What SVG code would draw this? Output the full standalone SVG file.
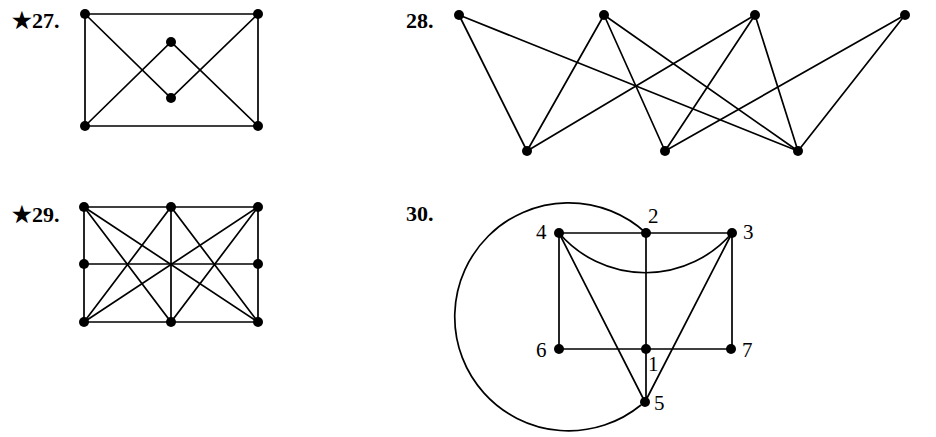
<svg xmlns="http://www.w3.org/2000/svg" width="936" height="437" viewBox="0 0 936 437">
<style>
.e{stroke:#000;stroke-width:1.7;fill:none}
.n{fill:#000}
.t{font-family:"Liberation Serif","Times New Roman",serif;font-weight:bold;font-size:22px;fill:#000}
.l{font-family:"Liberation Serif","Times New Roman",serif;font-size:21px;fill:#000}
</style>
<rect width="936" height="437" fill="#fff"/>
<text class="t" x="12" y="28">★27.</text>
<text class="t" x="406" y="28">28.</text>
<text class="t" x="12" y="222">★29.</text>
<text class="t" x="406" y="221">30.</text>
<g id="connectors">
<g id="c27">
<path class="e" d="M85 14H258V126H85Z"/>
<path class="e" d="M85 14L171 98L258 14"/>
<path class="e" d="M85 126L171 42L258 126"/>
</g>
<g id="c28">
<path class="e" d="M459 15L527 151M459 15L798 151"/>
<path class="e" d="M604 15L527 151M604 15L665 151M604 15L798 151"/>
<path class="e" d="M755 15L527 151M755 15L665 151M755 15L798 151"/>
<path class="e" d="M905 15L665 151M905 15L798 151"/>
</g>
<g id="c29">
<path class="e" d="M84 207H258V322H84Z"/>
<path class="e" d="M171 207V322M84 264H258"/>
<path class="e" d="M84 207L258 322M258 207L84 322"/>
<path class="e" d="M84 207L171 322L258 207M84 322L171 207L258 322"/>
</g>
<g id="c30">
<path class="e" d="M559 233H732M646 233V349M559 233V349M732 233V349M559 349H731M646 349V402M559 233L645 402M732 233L645 402"/>
<path class="e" d="M559 233A114 114 0 0 0 732 233"/>
<path class="e" d="M646 233A114 114 0 1 0 641 405"/>
</g>
</g>
<g id="n27">
<circle class="n" cx="85" cy="14" r="5"/><circle class="n" cx="258" cy="14" r="5"/>
<circle class="n" cx="85" cy="126" r="5"/><circle class="n" cx="258" cy="126" r="5"/>
<circle class="n" cx="171" cy="42" r="5"/><circle class="n" cx="171" cy="98" r="5"/>
</g>
<g id="n28">
<circle class="n" cx="459" cy="15" r="5"/><circle class="n" cx="604" cy="15" r="5"/>
<circle class="n" cx="755" cy="15" r="5"/><circle class="n" cx="905" cy="15" r="5"/>
<circle class="n" cx="527" cy="151" r="5"/><circle class="n" cx="665" cy="151" r="5"/>
<circle class="n" cx="798" cy="151" r="5"/>
</g>
<g id="n29">
<circle class="n" cx="84" cy="207" r="5"/><circle class="n" cx="171" cy="207" r="5"/><circle class="n" cx="258" cy="207" r="5"/>
<circle class="n" cx="84" cy="264" r="5"/><circle class="n" cx="258" cy="264" r="5"/>
<circle class="n" cx="84" cy="322" r="5"/><circle class="n" cx="171" cy="322" r="5"/><circle class="n" cx="258" cy="322" r="5"/>
</g>
<g id="n30-1"><circle class="n" cx="646" cy="349" r="5"/><text class="l" x="648" y="371">1</text></g>
<g id="n30-2"><circle class="n" cx="646" cy="233" r="5"/><text class="l" x="648" y="223">2</text></g>
<g id="n30-3"><circle class="n" cx="732" cy="233" r="5"/><text class="l" x="743" y="239">3</text></g>
<g id="n30-4"><circle class="n" cx="559" cy="233" r="5"/><text class="l" x="536" y="239">4</text></g>
<g id="n30-5"><circle class="n" cx="645" cy="402" r="5"/><text class="l" x="654" y="410">5</text></g>
<g id="n30-6"><circle class="n" cx="559" cy="349" r="5"/><text class="l" x="536" y="357">6</text></g>
<g id="n30-7"><circle class="n" cx="731" cy="349" r="5"/><text class="l" x="742" y="357">7</text></g>
</svg>
